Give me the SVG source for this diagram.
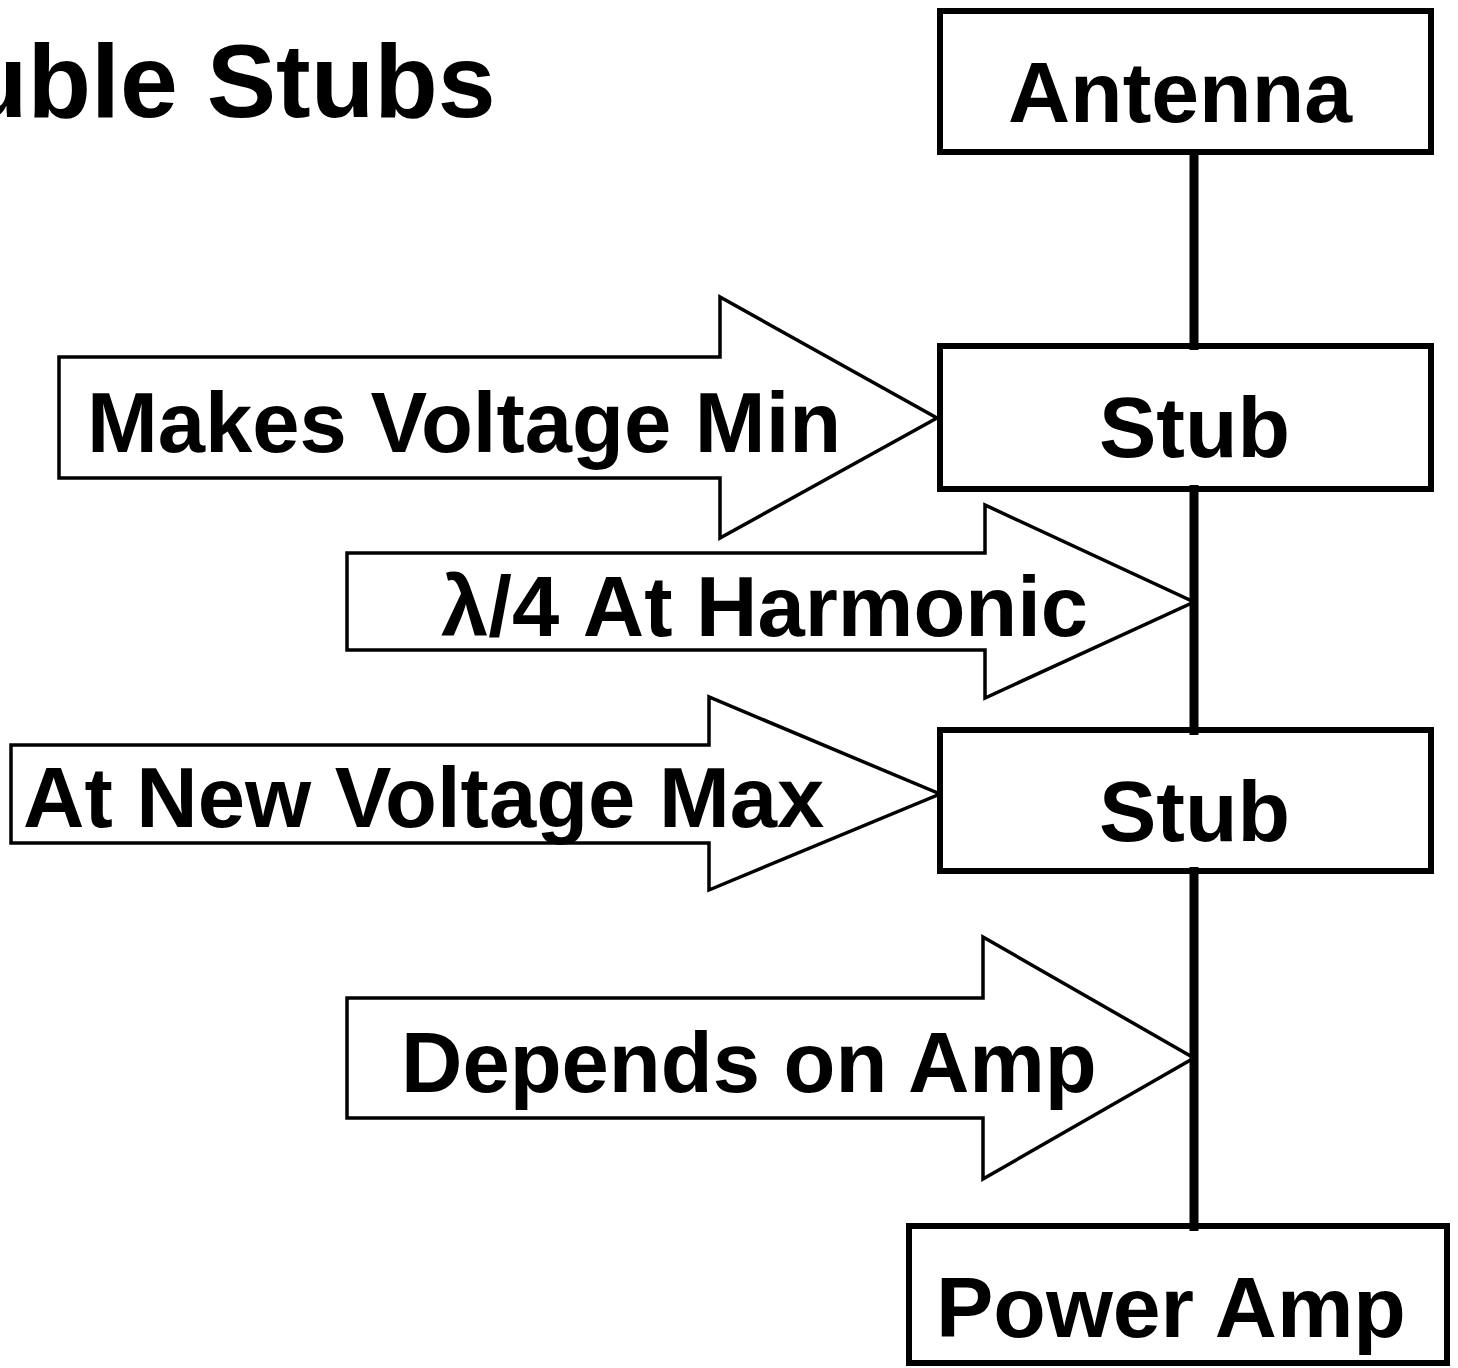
<svg xmlns="http://www.w3.org/2000/svg" width="1458" height="1368" viewBox="0 0 1458 1368">
<style>
text{font-family:"Liberation Sans",Arial,sans-serif;font-weight:bold;fill:#000}
.box{fill:#fff;stroke:#000;stroke-width:6}
.arr{fill:#fff;stroke:#000;stroke-width:3.5;stroke-linejoin:miter}
.lbl{font-size:85px}
.bt{font-size:86px}
.wire{stroke:#000;stroke-width:9;fill:none}
</style>
<rect width="1458" height="1368" fill="#fff"/>
<text id="title" x="-36" y="117" font-size="104">uble Stubs</text>
<g id="arrow-makes-voltage-min">
<path class="arr" d="M59,357 H720 V297 L937,418 L720,538 V478 H59 Z"/>
<text class="lbl" x="87" y="452">Makes Voltage Min</text>
</g>
<g id="arrow-harmonic">
<path class="arr" d="M347,553 H985 V505 L1194,602 L985,698 V650 H347 Z"/>
<text class="lbl" x="441" y="636">λ/4 At Harmonic</text>
</g>
<g id="arrow-new-voltage-max">
<path class="arr" d="M11,745 H709 V697 L940,794 L709,890 V843 H11 Z"/>
<text class="lbl" x="23" y="827">At New Voltage Max</text>
</g>
<g id="arrow-depends">
<path class="arr" d="M347,998 H983 V937 L1194,1058 L983,1179 V1118 H347 Z"/>
<text class="lbl" x="401" y="1092">Depends on Amp</text>
</g>
<g id="antenna">
<rect class="box" x="940" y="11" width="491" height="141"/>
<text class="bt" x="1008" y="122">Antenna</text>
</g>
<g id="stub1">
<rect class="box" x="940" y="346" width="491" height="143"/>
<text class="bt" x="1099" y="457">Stub</text>
</g>
<g id="stub2">
<rect class="box" x="940" y="730" width="491" height="141"/>
<text class="bt" x="1099" y="841">Stub</text>
</g>
<g id="power-amp">
<rect class="box" x="909" y="1226" width="538" height="137"/>
<text class="bt" x="936" y="1337">Power Amp</text>
</g>
<g id="connectors">
<line class="wire" x1="1194" y1="149" x2="1194" y2="350"/>
<line class="wire" x1="1194" y1="485" x2="1194" y2="735"/>
<line class="wire" x1="1194" y1="867" x2="1194" y2="1231"/>
</g>
</svg>
